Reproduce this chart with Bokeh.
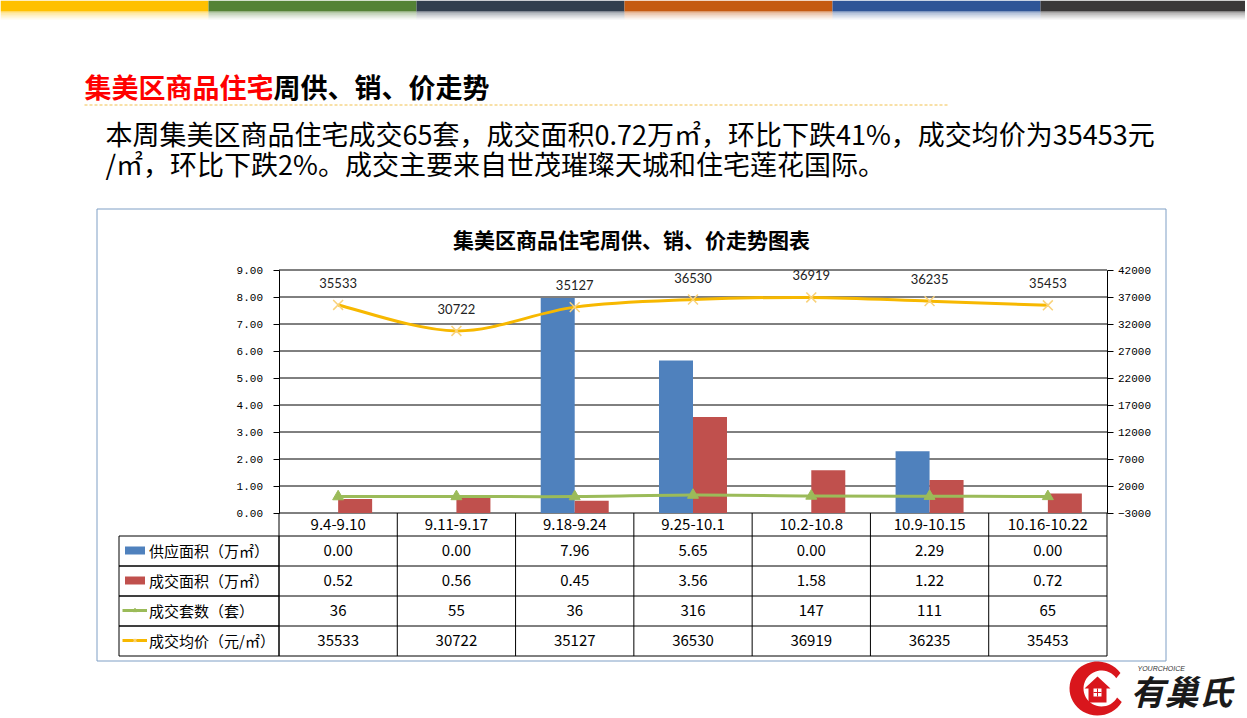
import numpy as np
from bokeh.plotting import figure
from bokeh.models import (Range1d, LinearAxis, FixedTicker, Legend, LegendItem,
                          PrintfTickFormatter)
from bokeh.embed import file_html
from bokeh.resources import INLINE
from bokeh.core.properties import value

# ---------------- data ----------------
categories = ["9.4-9.10", "9.11-9.17", "9.18-9.24", "9.25-10.1",
              "10.2-10.8", "10.9-10.15", "10.16-10.22"]
supply_area = [0.00, 0.00, 7.96, 5.65, 0.00, 2.29, 0.00]      # 供应面积（万㎡）
sales_area = [0.52, 0.56, 0.45, 3.56, 1.58, 1.22, 0.72]       # 成交面积（万㎡）
sales_units = [36, 55, 36, 316, 147, 111, 65]                 # 成交套数（套）
avg_price = [35533, 30722, 35127, 36530, 36919, 36235, 35453]  # 成交均价（元/㎡）
left_ticks = [0, 1, 2, 3, 4, 5, 6, 7, 8, 9]
right_ticks = [-3000, 2000, 7000, 12000, 17000, 22000, 27000, 32000, 37000, 42000]
series_names = ["供应面积（万㎡）", "成交面积（万㎡）", "成交套数（套）", "成交均价（元/㎡）"]

page_title_red = "集美区商品住宅"
page_title_black = "周供、销、价走势"
chart_title = "集美区商品住宅周供、销、价走势图表"
para_line1 = "本周集美区商品住宅成交65套，成交面积0.72万㎡，环比下跌41%，成交均价为35453元"
para_line2 = "/㎡，环比下跌2%。成交主要来自世茂璀璨天城和住宅莲花国际。"

# ---------------- layout constants (page pixels) ----------------
W, H = 1245, 716
PL, PR = 278.5, 1106.5      # plot-area left / right
Y0, Y9 = 512.5, 269.5       # pixel of 0.00 and 9.00 on the left axis
ROW_LINES = [535.5, 565.5, 595.5, 625.5, 655.5]
HEAD_MID = 524
ROW_MIDS = [550, 580, 610, 640]
CJK = "Noto Sans CJK SC"
BLUE, RED, GREEN, GOLD = "#4F81BD", "#C0504D", "#9BBB59", "#F7B800"

n = len(categories)
xc = np.arange(n) + 0.5
ppx = (PR - PL) / n
k = (Y0 - Y9) / (left_ticks[-1] - left_ticks[0])
kr = (right_ticks[-1] - right_ticks[0]) / (Y0 - Y9)

p = figure(width=W, height=H, output_backend="svg", toolbar_location=None, title=None,
           x_range=Range1d(-PL / ppx, (W - PL) / ppx),
           y_range=Range1d(-(H - Y0) / k, Y0 / k),
           x_axis_location=None, y_axis_location="left", min_border=0)
p.outline_line_color = None
p.background_fill_color = "white"
p.border_fill_color = "white"
p.xgrid.visible = False
p.ygrid.visible = False
p.extra_y_ranges = {"right": Range1d(right_ticks[0] - (H - Y0) * kr, right_ticks[0] + Y0 * kr),
                    "py": Range1d(H, 0)}
p.extra_x_ranges = {"px": Range1d(0, W)}
PX = dict(x_range_name="px", y_range_name="py")


def style_axis(ax, standoff):
    ax.major_tick_out = 6
    ax.major_tick_in = 0
    ax.minor_tick_out = 0
    ax.minor_tick_in = 0
    ax.axis_line_color = "black"
    ax.major_tick_line_color = "black"
    ax.major_label_text_font = "Liberation Mono"
    ax.major_label_text_font_size = "11px"
    ax.major_label_text_color = "black"
    ax.major_label_standoff = standoff


ya = p.yaxis[0]
ya.ticker = FixedTicker(ticks=left_ticks)
ya.formatter = PrintfTickFormatter(format="%.2f")
ya.bounds = (left_ticks[0], left_ticks[-1])
ya.fixed_location = 0
style_axis(ya, 10)

ra = LinearAxis(y_range_name="right", ticker=FixedTicker(ticks=right_ticks),
                bounds=(right_ticks[0], right_ticks[-1]), fixed_location=n)
style_axis(ra, 5)
p.add_layout(ra, "right")

# ---------------- decorations ----------------
stripe_x = [0, 208, 416, 624, 832, 1040, W]
stripe_c = ["#FFC000", "#548235", "#323F4F", "#C55A11", "#2F5597", "#3A3838"]
p.quad(left=stripe_x[:-1], right=stripe_x[1:], top=[0] * 6, bottom=[11] * 6,
       fill_color=stripe_c, line_color=None, **PX)
for j, a in enumerate([0.45, 0.3, 0.18, 0.08]):
    p.quad(left=stripe_x[:-1], right=stripe_x[1:], top=[11 + 2 * j] * 6,
           bottom=[13 + 2 * j] * 6, fill_color=stripe_c, fill_alpha=a, line_color=None, **PX)

TS = 27
p.text(x=[84], y=[86], text=[page_title_red], text_font=value(CJK), text_font_size="%dpx" % TS,
       text_font_style="bold", text_color="#FF0000", text_baseline="middle", **PX)
p.text(x=[84 + len(page_title_red) * TS], y=[86], text=[page_title_black], text_font=value(CJK),
       text_font_size="%dpx" % TS, text_font_style="bold", text_color="black",
       text_baseline="middle", **PX)
p.segment(x0=[84], y0=[104.5], x1=[948], y1=[104.5], line_color="#F2C14E", line_width=1,
          line_dash="3 2", **PX)

p.text(x=[105, 105], y=[133, 163], text=[para_line1, para_line2], text_font=value(CJK),
       text_font_size="27px", text_color="black", text_baseline="middle", **PX)

p.quad(left=[96.5], right=[1165.5], top=[208.5], bottom=[660.5], fill_color=None,
       line_color="#7F9FC5", line_width=1, **PX)
p.text(x=[631], y=[238], text=[chart_title], text_font=value(CJK), text_font_size="21px",
       text_font_style="bold", text_color="black", text_baseline="middle",
       text_align="center", **PX)

# ---------------- grid lines ----------------
p.segment(x0=[0] * len(left_ticks), y0=left_ticks, x1=[n] * len(left_ticks), y1=left_ticks,
          line_color="black", line_width=1)

# ---------------- bars ----------------
bw = 0.2874
r_sup = p.vbar(x=xc - bw / 2, top=supply_area, bottom=0, width=bw,
               fill_color=BLUE, line_color=None)
r_sal = p.vbar(x=xc + bw / 2, top=sales_area, bottom=0, width=bw,
               fill_color=RED, line_color=None)


def bezier_cols(xs, ys):
    P = np.column_stack([np.asarray(xs, float), np.asarray(ys, float)])
    m = len(P)
    out = {k_: [] for k_ in ["x0", "y0", "x1", "y1", "cx0", "cy0", "cx1", "cy1"]}
    for i in range(m - 1):
        p0, p1, p2, p3 = P[max(i - 1, 0)], P[i], P[i + 1], P[min(i + 2, m - 1)]
        c1 = p1 + (p2 - p0) / 6.0
        c2 = p2 - (p3 - p1) / 6.0
        out["x0"].append(p1[0]); out["y0"].append(p1[1])
        out["x1"].append(p2[0]); out["y1"].append(p2[1])
        out["cx0"].append(c1[0]); out["cy0"].append(c1[1])
        out["cx1"].append(c2[0]); out["cy1"].append(c2[1])
    return out


gb = bezier_cols(xc, sales_units)
p.bezier(line_color=GREEN, line_width=3, y_range_name="right", **gb)
r_tri = p.scatter(x=xc, y=sales_units, marker="triangle", size=11, fill_color=GREEN,
                  line_color=GREEN, y_range_name="right")

pb = bezier_cols(xc, avg_price)
p.bezier(line_color=GOLD, line_width=3, y_range_name="right", **pb)
r_x = p.scatter(x=xc, y=avg_price, marker="x", size=14, line_color="#F9D27A",
                line_width=1.5, y_range_name="right")

p.text(x=xc, y=avg_price, text=[str(v) for v in avg_price], y_range_name="right",
       y_offset=-22, text_align="center", text_baseline="middle",
       text_font=value("Lato"), text_font_size="13px", text_color="#222222")

# line renderers used only for the legend swatches (no visible points)
g_leg = p.line(x=[np.nan], y=[np.nan], line_color=GREEN, line_width=3, y_range_name="right")
y_leg = p.line(x=[np.nan], y=[np.nan], line_color=GOLD, line_width=3, y_range_name="right")

# ---------------- data table ----------------
p.segment(x0=[0] * len(ROW_LINES), y0=ROW_LINES, x1=[n] * len(ROW_LINES), y1=ROW_LINES,
          line_color="black", line_width=1, y_range_name="py")
p.segment(x0=list(range(0, n + 1)), y0=[Y0] * (n + 1), x1=list(range(0, n + 1)),
          y1=[ROW_LINES[-1]] * (n + 1), y_range_name="py", line_color="black", line_width=1)
p.quad(left=[118.5] * 4, right=[PL] * 4, top=ROW_LINES[:-1], bottom=ROW_LINES[1:],
       fill_color=None, line_color="black", line_width=1, **PX)

tfont = dict(text_align="center", text_baseline="middle", text_font=value(CJK),
             text_font_size="15px", text_color="black", y_range_name="py")
p.text(x=xc, y=[HEAD_MID] * n, text=categories, **tfont)
rows = [["%.2f" % v for v in supply_area], ["%.2f" % v for v in sales_area],
        [str(v) for v in sales_units], [str(v) for v in avg_price]]
for ym, rtxt in zip(ROW_MIDS, rows):
    p.text(x=xc, y=[ym] * n, text=rtxt, **tfont)

legend = Legend(items=[LegendItem(label=series_names[0], renderers=[r_sup]),
                       LegendItem(label=series_names[1], renderers=[r_sal]),
                       LegendItem(label=series_names[2], renderers=[g_leg, r_tri]),
                       LegendItem(label=series_names[3], renderers=[y_leg, r_x])],
                location=(122, H - 651), orientation="vertical",
                glyph_width=25, glyph_height=10, label_height=22, label_standoff=2,
                spacing=8, padding=0, margin=0, border_line_color=None,
                background_fill_alpha=0, label_text_font=CJK,
                label_text_font_size="15px", label_text_color="black")
p.add_layout(legend)

# ---------------- logo ----------------
LOGO_RED = "#D9161C"
cx0, cy0 = 1097, 688
ang_o = np.radians(np.linspace(35, 330, 40))
ang_i = ang_o[::-1]
lx = list(cx0 + 28 * np.cos(ang_o)) + list(cx0 + 4 + 18 * np.cos(ang_i))
ly = list(cy0 - 27 * np.sin(ang_o)) + list(cy0 - 18 * np.sin(ang_i))
p.patch(x=lx, y=ly, fill_color=LOGO_RED, line_color=None, **PX)
p.patch(x=[1084, 1097, 1110, 1106, 1106, 1088, 1088], y=[688, 676, 688, 688, 702, 702, 688],
        fill_color=LOGO_RED, line_color=None, **PX)
p.quad(left=[1093], right=[1101], top=[688], bottom=[696], fill_color="white",
       line_color=None, **PX)
p.quad(left=[1096.5, 1093], right=[1097.5, 1101], top=[688, 691.5], bottom=[696, 692.5],
       fill_color=LOGO_RED, line_color=None, **PX)
p.text(x=[1130], y=[690], text=["有巢氏"], text_font=value(CJK), text_font_size="34px",
       text_font_style="bold italic", text_color="#1A1A1A", text_baseline="middle", **PX)
p.text(x=[1137], y=[668], text=["YOURCHOICE"], text_font=value("Liberation Sans"),
       text_font_size="7px", text_font_style="italic", text_color="#333333",
       text_baseline="middle", **PX)

open("out.html", "w").write(file_html(p, INLINE))
